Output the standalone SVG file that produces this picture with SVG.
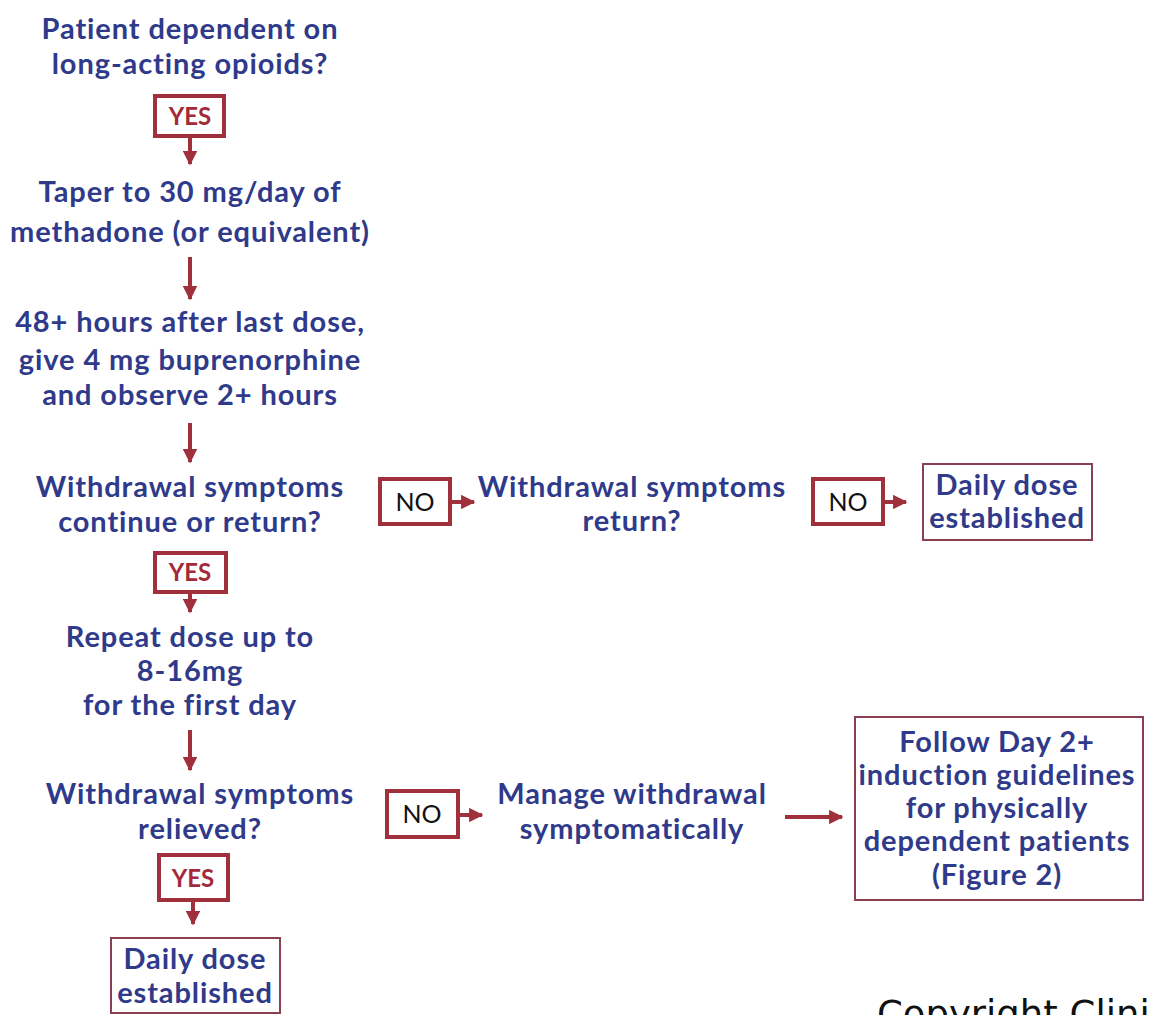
<svg xmlns="http://www.w3.org/2000/svg" width="1150" height="1015" viewBox="0 0 1150 1015">
<style>
.t{font-family:Lato,"Open Sans","Liberation Sans",sans-serif;font-weight:bold;font-size:29px;letter-spacing:0.9px;fill:#2f3a8a;text-anchor:middle}
.yes{font-family:Lato,"Liberation Sans",sans-serif;font-weight:bold;font-size:24px;fill:#a3293b;text-anchor:middle}
.no{font-family:Lato,"Liberation Sans",sans-serif;font-size:25px;fill:#111;text-anchor:middle}
.lb{fill:#fff;stroke:#a0303c;stroke-width:4}
.rb{fill:#fff;stroke:#8a4050;stroke-width:2}
.c{stroke:#a0303c;stroke-width:4;fill:none}
</style>
<defs>
<marker id="ah" viewBox="0 0 10 10" refX="9" refY="5" markerWidth="3.6" markerHeight="3.6" orient="auto" markerUnits="strokeWidth">
<path d="M0,0 L10,5 L0,10 z" fill="#a0303c"/>
</marker>
</defs>
<rect width="1150" height="1015" fill="#fff"/>

<g id="connectors">
<line class="c" x1="190" y1="137" x2="190" y2="164" marker-end="url(#ah)"/>
<line class="c" x1="190" y1="257" x2="190" y2="299" marker-end="url(#ah)"/>
<line class="c" x1="190" y1="423" x2="190" y2="462" marker-end="url(#ah)"/>
<line class="c" x1="450" y1="502" x2="474" y2="502" marker-end="url(#ah)"/>
<line class="c" x1="883" y1="502" x2="906" y2="502" marker-end="url(#ah)"/>
<line class="c" x1="190" y1="592" x2="190" y2="612" marker-end="url(#ah)"/>
<line class="c" x1="190" y1="730" x2="190" y2="770" marker-end="url(#ah)"/>
<line class="c" x1="458" y1="815" x2="482" y2="815" marker-end="url(#ah)"/>
<line class="c" x1="785" y1="817" x2="842" y2="817" marker-end="url(#ah)"/>
<line class="c" x1="193" y1="900" x2="193" y2="924" marker-end="url(#ah)"/>
</g>

<g id="n1"><text class="t" x="190" y="39">Patient dependent on</text><text class="t" x="190" y="74">long-acting opioids?</text></g>
<g id="yes1"><rect class="lb" x="155" y="96" width="69" height="40"/><text class="yes" x="190" y="125">YES</text></g>
<g id="n2"><text class="t" x="190" y="202">Taper to 30 mg/day of</text><text class="t" x="190" y="242">methadone (or equivalent)</text></g>
<g id="n3"><text class="t" x="190" y="332">48+ hours after last dose,</text><text class="t" x="190" y="370">give 4 mg buprenorphine</text><text class="t" x="190" y="405">and observe 2+ hours</text></g>
<g id="n4"><text class="t" x="190" y="497">Withdrawal symptoms</text><text class="t" x="190" y="532">continue or return?</text></g>
<g id="no1"><rect class="lb" x="380" y="479" width="70" height="45"/><text class="no" x="415" y="511">NO</text></g>
<g id="n5"><text class="t" x="632" y="497">Withdrawal symptoms</text><text class="t" x="632" y="531">return?</text></g>
<g id="no2"><rect class="lb" x="813" y="479" width="70" height="45"/><text class="no" x="848" y="511">NO</text></g>
<g id="n6"><rect class="rb" x="923" y="464" width="169" height="76"/><text class="t" x="1007" y="495">Daily dose</text><text class="t" x="1007" y="528">established</text></g>
<g id="yes2"><rect class="lb" x="155" y="553" width="71" height="39"/><text class="yes" x="190" y="581">YES</text></g>
<g id="n7"><text class="t" x="190" y="647">Repeat dose up to</text><text class="t" x="190" y="681">8-16mg</text><text class="t" x="190" y="715">for the first day</text></g>
<g id="n8"><text class="t" x="200" y="804">Withdrawal symptoms</text><text class="t" x="200" y="839">relieved?</text></g>
<g id="no3"><rect class="lb" x="387" y="791" width="71" height="46"/><text class="no" x="422" y="823">NO</text></g>
<g id="n9"><text class="t" x="632" y="804">Manage withdrawal</text><text class="t" x="632" y="839">symptomatically</text></g>
<g id="n10"><rect class="rb" x="855" y="717" width="288" height="183"/><text class="t" x="997" y="752">Follow Day 2+</text><text class="t" x="997" y="785">induction guidelines</text><text class="t" x="997" y="818">for physically</text><text class="t" x="997" y="851">dependent patients</text><text class="t" x="997" y="885">(Figure 2)</text></g>
<g id="yes3"><rect class="lb" x="159" y="855" width="69" height="45"/><text class="yes" x="193" y="887">YES</text></g>
<g id="n11"><rect class="rb" x="111" y="938" width="169" height="75"/><text class="t" x="195" y="969">Daily dose</text><text class="t" x="195" y="1003">established</text></g>
<text x="877" y="1027" font-family="'DejaVu Sans',sans-serif" font-size="37" fill="#111">Copyright Clini</text>
</svg>
